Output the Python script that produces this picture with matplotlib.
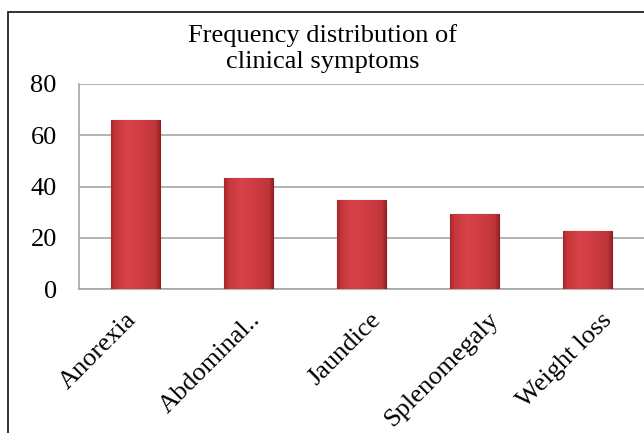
import matplotlib
matplotlib.use("Agg")
import matplotlib.pyplot as plt
import numpy as np
from matplotlib.patches import Rectangle
from matplotlib.colors import LinearSegmentedColormap
from matplotlib.transforms import ScaledTranslation

categories = ["Anorexia", "Abdominal..", "Jaundice", "Splenomegaly", "Weight loss"]
values = [66, 43.3, 34.7, 29.3, 22.6]
yticks = [0, 20, 40, 60, 80]
title = "Frequency distribution of\nclinical symptoms"

# style: horizontal offsets (px) of the rotated category labels
label_dx_px = [-3, 8, 16, 21, 21]

plt.rcParams['font.family'] = ['Liberation Serif', 'DejaVu Serif']

fig = plt.figure(figsize=(6.44, 4.33), dpi=100)
fig.patch.set_facecolor('white')

# outer chart frame (cut off at right and bottom)
top = 1 - 12 / 433
frame = Rectangle((8 / 644, -0.2), 1.2, top + 0.2, transform=fig.transFigure,
                  fill=False, edgecolor='#222222', linewidth=1.3, zorder=0)
fig.patches.append(frame)

ax = fig.add_axes([79 / 644, 144 / 433, 565 / 644, 205 / 433])
x = list(range(len(categories)))
bars = ax.bar(x, values, width=0.43, color='#c9373b', edgecolor='#8a2225',
              linewidth=0.8, zorder=3)

cmap = LinearSegmentedColormap.from_list('barred', [
    (0.0, '#a3282c'), (0.08, '#c5363a'), (0.35, '#d8434a'),
    (0.6, '#cf3d43'), (0.92, '#bf3539'), (1.0, '#9a2427')])
grad = np.linspace(0, 1, 64).reshape(1, -1)
ax.set_xlim(-0.5, len(categories) - 0.5)
ax.set_ylim(0, 80)
for b in bars:
    x0, y0 = b.get_x(), b.get_y()
    w, h = b.get_width(), b.get_height()
    im = ax.imshow(grad, cmap=cmap, aspect='auto', extent=(x0, x0 + w, y0, y0 + h),
                   zorder=3.5, interpolation='bicubic')
    im.set_clip_path(b)
ax.set_xlim(-0.5, len(categories) - 0.5)
ax.set_ylim(0, 80)

ax.set_yticks(yticks)
ax.set_yticklabels([str(v) for v in yticks], fontsize=19)
ax.yaxis.grid(True, color='#a6a6a6', linewidth=1.2, zorder=0)
ax.set_axisbelow(True)
ax.tick_params(axis='y', length=0, pad=16)
ax.tick_params(axis='x', length=0, pad=20)
ax.set_xticks(x)
ax.set_xticklabels(categories, fontsize=19, rotation=45, ha='right', va='center',
                   rotation_mode='anchor')
for lab, dx in zip(ax.get_xticklabels(), label_dx_px):
    lab.set_transform(lab.get_transform() + ScaledTranslation(dx / 100, 0, fig.dpi_scale_trans))
for s in ['top', 'right']:
    ax.spines[s].set_visible(False)
ax.spines['left'].set_color('#a6a6a6')
ax.spines['bottom'].set_color('#a6a6a6')
ax.spines['left'].set_linewidth(1.2)
ax.spines['bottom'].set_linewidth(1.2)

fig.text(323 / 644, 1 - 24 / 433, title, ha='center', va='top', fontsize=19,
         linespacing=1.25)

fig.savefig("out.png", dpi=100)
